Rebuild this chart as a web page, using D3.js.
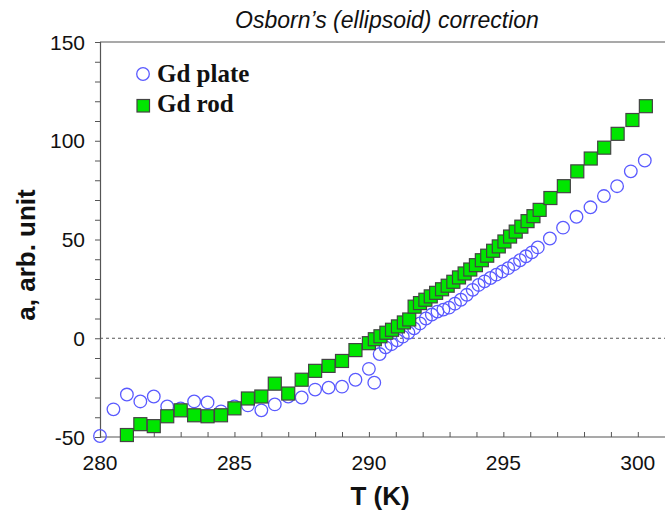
<!DOCTYPE html>
<html>
<head>
<meta charset="utf-8">
<script src="https://cdn.jsdelivr.net/npm/d3@7"></script>
<style>
  body { margin: 0; background: #fff; }
  svg { display: block; }
</style>
</head>
<body>
<svg id="chart" width="665" height="511"></svg>
<script>
// Gd plate (open circles)
const plateT = [280.0, 280.5, 281.0, 281.5, 282.0, 282.5, 283.0, 283.5, 284.0, 284.5,
  285.0, 285.5, 286.0, 286.5, 287.0, 287.5, 288.0, 288.5, 289.0, 289.5,
  290.0, 290.2, 290.4, 290.62, 290.84, 291.05, 291.26, 291.47, 291.68, 291.9,
  292.12, 292.34, 292.55, 292.77, 292.98, 293.2, 293.42, 293.64, 293.86, 294.08,
  294.3, 294.52, 294.74, 294.96, 295.18, 295.4, 295.62, 295.84, 296.06, 296.28,
  296.73, 297.22, 297.72, 298.24, 298.74, 299.23, 299.74, 300.26];
const plateA = [-49.5, -36, -28.5, -32, -29.5, -34.5, -35.5, -32, -32.5, -37,
  -34.5, -34, -36.5, -33.5, -29.5, -30, -26, -25, -24.5, -21,
  -15.5, -22.5, -8, -4.6, -3, -1, 0.8, 2.8, 5, 7.5,
  10, 12, 13.5, 14.5, 15.5, 17.5, 19.5, 22, 24.5, 27,
  28.8, 30.5, 32.2, 33.8, 35.5, 37.5, 39.5, 41.5, 43.5, 46,
  50.5, 56, 61.5, 66.3, 72, 77, 84.5, 90];

// Gd rod (filled squares)
const rodT = [281.0, 281.5, 282.0, 282.5, 283.0, 283.5, 284.0, 284.5, 285.0, 285.5,
  286.0, 286.5, 287.0, 287.5, 288.0, 288.5, 289.0, 289.5,
  290.0, 290.22, 290.43, 290.65, 290.86, 291.08, 291.3, 291.5, 291.7, 291.9,
  292.1, 292.3, 292.5, 292.72, 292.93, 293.14, 293.35, 293.56, 293.77, 293.98,
  294.2, 294.4, 294.62, 294.83, 295.04, 295.25, 295.46, 295.67, 295.9, 296.12,
  296.35, 296.75, 297.25, 297.75, 298.25, 298.75, 299.25, 299.8, 300.3];
const rodA = [-49, -43.5, -44.5, -39.5, -36.5, -39, -39.5, -39, -35.5, -30.5,
  -29.5, -23, -28, -21, -16.5, -14, -11.5, -6,
  -2.5, -0.5, 1, 2.8, 4.3, 6, 8, 9.5, 16, 17.8,
  19.5, 21.2, 23, 24.8, 26.6, 28.6, 30.8, 32.8, 34.8, 37,
  39.5, 41.8, 44.3, 46.5, 49, 51.5, 54, 56.5, 59.3, 61.8,
  65, 71, 77, 84.5, 91, 96.5, 103.5, 110.5, 117.5];

const xTicks = [280, 285, 290, 295, 300];
const yTicks = [-50, 0, 50, 100, 150];

const svg = d3.select("#chart");
const width = +svg.attr("width");
const height = +svg.attr("height");
const margin = { top: 42, right: 3, bottom: 74, left: 100 };

const x = d3.scaleLinear().domain([280, 300.9]).range([margin.left, width - margin.right]);
const y = d3.scaleLinear().domain([-50, 150]).range([height - margin.bottom, margin.top]);

const axisColor = "#555";
const sans = "Arial, 'Liberation Sans', sans-serif";

// title
svg.append("text")
  .attr("x", 387).attr("y", 28)
  .attr("text-anchor", "middle")
  .attr("font-family", sans)
  .attr("font-style", "italic")
  .attr("font-size", 23)
  .attr("fill", "#111")
  .text("Osborn’s (ellipsoid) correction");

// top frame line
svg.append("line")
  .attr("x1", margin.left).attr("x2", width)
  .attr("y1", y(150)).attr("y2", y(150))
  .attr("stroke", axisColor).attr("stroke-width", 1.2);

// zero line
svg.append("line")
  .attr("x1", margin.left).attr("x2", width)
  .attr("y1", y(0)).attr("y2", y(0))
  .attr("stroke", "#555").attr("stroke-width", 1)
  .attr("stroke-dasharray", "3,3");

// x axis, minor ticks every 1 K, ticks pointing inward
const xAxis = svg.append("g")
  .attr("transform", `translate(0,${y(-50)})`)
  .call(d3.axisTop(x).tickValues(d3.range(280, 301, 1)).tickSize(5).tickFormat(""));
xAxis.select(".domain").remove();
xAxis.selectAll("line").attr("stroke", axisColor).attr("stroke-width", 1);
svg.append("line")
  .attr("x1", margin.left).attr("x2", width)
  .attr("y1", y(-50)).attr("y2", y(-50))
  .attr("stroke", axisColor).attr("stroke-width", 1.2);

svg.selectAll(".xlab")
  .data(xTicks)
  .join("text")
  .attr("class", "xlab")
  .attr("x", d => x(d))
  .attr("y", 470)
  .attr("text-anchor", "middle")
  .attr("font-family", sans)
  .attr("font-size", 21)
  .attr("fill", "#111")
  .text(d => d);

// y axis, minor ticks every 10
const yAxis = svg.append("g")
  .attr("transform", `translate(${margin.left},0)`)
  .call(d3.axisLeft(y).tickValues(d3.range(-50, 151, 10)).tickSize(5).tickFormat(""));
yAxis.select(".domain").attr("stroke", axisColor).attr("stroke-width", 1.2);
yAxis.selectAll("line").attr("stroke", axisColor).attr("stroke-width", 1);

svg.selectAll(".ylab")
  .data(yTicks)
  .join("text")
  .attr("class", "ylab")
  .attr("x", 85)
  .attr("y", d => y(d) + 7.5)
  .attr("text-anchor", "end")
  .attr("font-family", sans)
  .attr("font-size", 21)
  .attr("fill", "#111")
  .text(d => d);

// axis titles
svg.append("text")
  .attr("x", 380).attr("y", 505)
  .attr("text-anchor", "middle")
  .attr("font-family", sans)
  .attr("font-weight", "bold")
  .attr("font-size", 26)
  .attr("fill", "#111")
  .text("T (K)");

svg.append("text")
  .attr("transform", `translate(35,255) rotate(-90)`)
  .attr("text-anchor", "middle")
  .attr("font-family", sans)
  .attr("font-weight", "bold")
  .attr("font-size", 26)
  .attr("fill", "#111")
  .text("a, arb. unit");

// data
const plate = plateT.map((t, i) => ({ t: t, a: plateA[i] }));
const rod = rodT.map((t, i) => ({ t: t, a: rodA[i] }));

svg.append("g")
  .selectAll("circle")
  .data(plate)
  .join("circle")
  .attr("cx", d => x(d.t))
  .attr("cy", d => y(d.a))
  .attr("r", 6.3)
  .attr("fill", "none")
  .attr("stroke", "#5a5aff")
  .attr("stroke-width", 1.3);

const sq = 13;
svg.append("g")
  .selectAll("rect")
  .data(rod)
  .join("rect")
  .attr("x", d => x(d.t) - sq / 2)
  .attr("y", d => y(d.a) - sq / 2)
  .attr("width", sq)
  .attr("height", sq)
  .attr("fill", "#00e600")
  .attr("stroke", "#444")
  .attr("stroke-width", 1.2);

// legend
const legend = svg.append("g");
legend.append("circle")
  .attr("cx", 143).attr("cy", 74).attr("r", 6.3)
  .attr("fill", "none").attr("stroke", "#5a5aff").attr("stroke-width", 1.3);
legend.append("rect")
  .attr("x", 137).attr("y", 99.5).attr("width", 12.5).attr("height", 12.5)
  .attr("fill", "#00e600").attr("stroke", "#444").attr("stroke-width", 1.2);
legend.selectAll("text")
  .data(["Gd plate", "Gd rod"])
  .join("text")
  .attr("x", 157)
  .attr("y", (d, i) => 82 + i * 30)
  .attr("font-family", "'Times New Roman', 'Liberation Serif', serif")
  .attr("font-weight", "bold")
  .attr("font-size", 25)
  .attr("fill", "#111")
  .text(d => d);
</script>
</body>
</html>
